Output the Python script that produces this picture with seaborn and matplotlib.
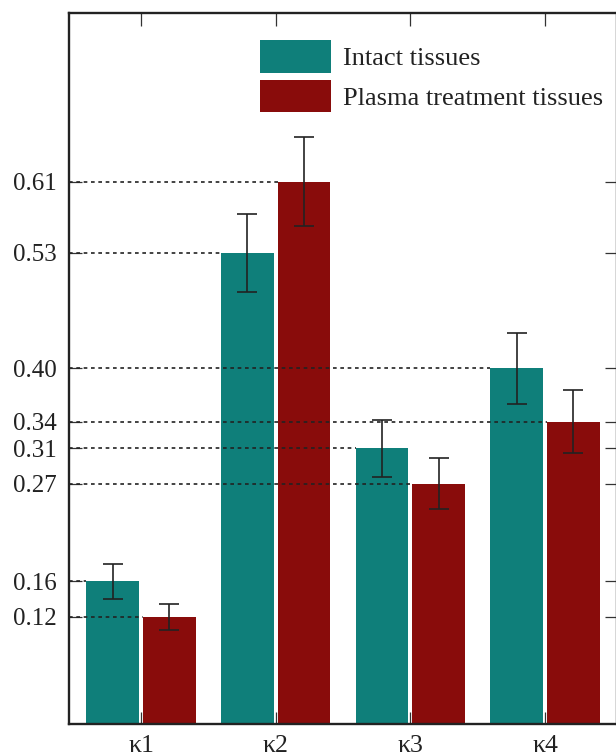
import matplotlib
matplotlib.use("Agg")
import matplotlib.pyplot as plt
import seaborn as sns
import pandas as pd
from matplotlib.patches import Patch

categories = ["κ1", "κ2", "κ3", "κ4"]
series_names = ["Intact tissues", "Plasma treatment tissues"]
intact = [0.16, 0.53, 0.31, 0.40]
plasma = [0.12, 0.61, 0.27, 0.34]
intact_err = [0.020, 0.044, 0.032, 0.040]
plasma_err = [0.015, 0.050, 0.029, 0.035]
ytick_values = [0.12, 0.16, 0.27, 0.31, 0.34, 0.40, 0.53, 0.61]
ytick_labels = ["0.12", "0.16", "0.27", "0.31", "0.34", "0.40", "0.53", "0.61"]

colors = ["#0f7f7a", "#890c0b"]

df = pd.DataFrame({
    "cat": categories * 2,
    "series": [series_names[0]] * 4 + [series_names[1]] * 4,
    "value": intact + plasma,
})

sns.set_theme(style="white")
plt.rcParams["font.family"] = ["Liberation Serif", "DejaVu Serif"]

fig = plt.figure(figsize=(6.16, 7.56), dpi=100)
ax = fig.add_axes([69 / 616, 32.5 / 756, 548 / 616, 710.5 / 756])

sns.barplot(data=df, x="cat", y="value", hue="series", order=categories,
            hue_order=series_names, palette=colors, errorbar=None,
            width=0.84, gap=0.07, linewidth=0, saturation=1, ax=ax, legend=False)

ax.set_xlim(-0.535, 3.535)
ax.set_ylim(0, 0.8)

errs = [intact_err, plasma_err]
for cont, err in zip(ax.containers, errs):
    for bar, e in zip(cont.patches, err):
        xc = bar.get_x() + bar.get_width() / 2
        h = bar.get_height()
        ax.errorbar(xc, h, yerr=e, fmt="none", ecolor="#222222",
                    elinewidth=1.2, capsize=7.5, capthick=1.2, zorder=4)
        ax.hlines(h, ax.get_xlim()[0], bar.get_x(), colors="#222222",
                  linestyles=(0, (2.2, 2.2)), linewidth=1.2, zorder=3)

ax.set_yticks(ytick_values)
ax.set_yticklabels(ytick_labels)
ax.set_xlabel("")
ax.set_ylabel("")
ax.tick_params(axis="both", direction="in", length=9, width=0.9,
               color="#333333", labelcolor="#222222",
               top=True, right=True, left=True, bottom=True)
ax.tick_params(axis="y", pad=8.5, labelsize=18)
ax.tick_params(axis="x", pad=8.5, labelsize=18.5)
for s in ax.spines.values():
    s.set_linewidth(1.7)
    s.set_color("#222222")
    s.set_visible(True)

handles = [Patch(facecolor=c, edgecolor="none") for c in colors]
leg = fig.legend(handles, series_names, loc="upper left",
                 bbox_to_anchor=(260 / 616, 1 - 40 / 756),
                 frameon=False, fontsize=19, handlelength=2.69,
                 handleheight=1.52, labelspacing=0.27, handletextpad=0.45,
                 borderpad=0, borderaxespad=0)
for t in leg.get_texts():
    t.set_color("#222222")

fig.savefig("out.png", dpi=100)
